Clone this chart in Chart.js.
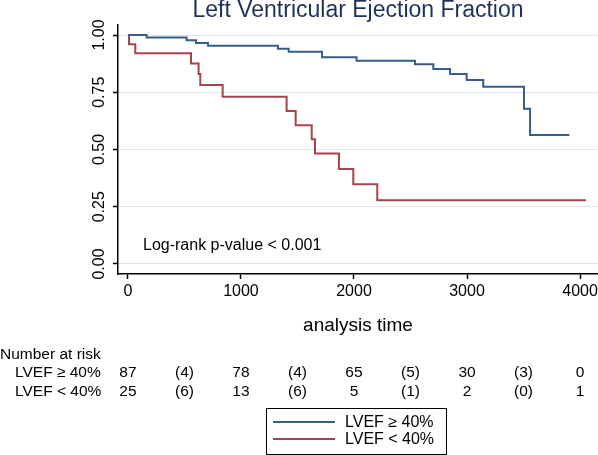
<!DOCTYPE html>
<html>
<head>
<meta charset="utf-8">
<script src="https://cdn.jsdelivr.net/npm/chart.js@4/dist/chart.umd.min.js"></script>
<style>
  html, body { margin: 0; padding: 0; background: #fff; }
  #wrap { width: 598px; height: 455px; }
</style>
</head>
<body>
<div id="wrap"><canvas id="km" width="598" height="455"></canvas></div>
<script>
// Kaplan-Meier curves
const highTimes = [0, 165, 519, 602, 708, 1327, 1422, 1717, 2023, 2540, 2702, 2850, 2997, 3144, 3504, 3558, 3905];
const highSurv  = [1.00, 0.989, 0.977, 0.965, 0.953, 0.940, 0.927, 0.903, 0.888, 0.872, 0.852, 0.830, 0.803, 0.774, 0.678, 0.563, 0.563];

const lowTimes = [0, 9, 65, 558, 625, 640, 838, 1404, 1484, 1626, 1655, 1867, 1994, 2206, 4053];
const lowSurv  = [1.00, 0.960, 0.920, 0.876, 0.830, 0.782, 0.730, 0.668, 0.606, 0.545, 0.483, 0.415, 0.348, 0.278, 0.278];

const seriesLabels = ['LVEF \u2265 40%', 'LVEF < 40%'];
const seriesColors = ['#345e88', '#a5434c'];

// Number at risk table (also the x tick values)
const riskTimes = [0, 1000, 2000, 3000, 4000];
const riskHigh = [87, 78, 65, 30, 0];
const censHigh = [4, 4, 5, 3];
const riskLow = [25, 13, 5, 2, 1];
const censLow = [6, 6, 1, 0];

const yTicks = [0, 0.25, 0.5, 0.75, 1];

const FONT = '"Liberation Sans", Arial, Helvetica, sans-serif';

const toPoints = (ts, ss) => ts.map((t, i) => ({ x: t, y: ss[i] }));

// Draws all the extra text: title, rotated y labels, risk table, legend box
const extrasPlugin = {
    id: 'extras',
    afterDraw(chart) {
        const ctx = chart.ctx;
        const area = chart.chartArea;
        const xs = chart.scales.x;
        const ys = chart.scales.y;
        const cx = (area.left + area.right) / 2;

        ctx.save();

        // title
        ctx.fillStyle = '#1e3159';
        ctx.font = '23px ' + FONT;
        ctx.textAlign = 'center';
        ctx.textBaseline = 'alphabetic';
        ctx.fillText('Left Ventricular Ejection Fraction', cx, 17);

        // y tick labels, rotated
        ctx.fillStyle = '#000';
        ctx.font = '16px ' + FONT;
        ys.ticks.forEach(tk => {
            const y = ys.getPixelForValue(tk.value);
            ctx.save();
            ctx.translate(100, y);
            ctx.rotate(-Math.PI / 2);
            ctx.textAlign = 'center';
            ctx.textBaseline = 'middle';
            ctx.fillText(tk.value.toFixed(2), 0, 0);
            ctx.restore();
        });

        // x axis title
        ctx.font = '19px ' + FONT;
        ctx.textAlign = 'center';
        ctx.textBaseline = 'middle';
        ctx.fillText('analysis time', cx, 326);

        // log-rank note
        ctx.font = '16px ' + FONT;
        ctx.textAlign = 'left';
        ctx.fillText('Log-rank p-value < 0.001', 143, 246);

        // number at risk
        ctx.font = '15.5px ' + FONT;
        ctx.textAlign = 'left';
        ctx.fillText('Number at risk', 0, 355);
        ctx.fillText(seriesLabels[0], 15, 373);
        ctx.fillText(seriesLabels[1], 15, 392);
        ctx.textAlign = 'center';
        riskTimes.forEach((t, i) => {
            const x = xs.getPixelForValue(t);
            ctx.fillText(String(riskHigh[i]), x, 373);
            ctx.fillText(String(riskLow[i]), x, 392);
            if (i < riskTimes.length - 1) {
                const xm = xs.getPixelForValue((t + riskTimes[i + 1]) / 2);
                ctx.fillText('(' + censHigh[i] + ')', xm, 373);
                ctx.fillText('(' + censLow[i] + ')', xm, 392);
            }
        });

        // legend box
        ctx.strokeStyle = '#000';
        ctx.lineWidth = 1;
        ctx.strokeRect(266.5, 408.5, 180, 46);
        const rows = [422, 439];
        ctx.font = '16px ' + FONT;
        ctx.textAlign = 'left';
        rows.forEach((y, i) => {
            ctx.strokeStyle = seriesColors[i];
            ctx.lineWidth = 2;
            ctx.beginPath();
            ctx.moveTo(273, y);
            ctx.lineTo(335, y);
            ctx.stroke();
            ctx.fillStyle = '#000';
            ctx.fillText(seriesLabels[i], 345, y + 1);
        });

        ctx.restore();
    }
};

const ctx = document.getElementById('km').getContext('2d');
const chart = new Chart(ctx, {
    type: 'line',
    data: {
        datasets: [
            {
                label: seriesLabels[0],
                data: toPoints(highTimes, highSurv),
                borderColor: seriesColors[0],
                borderWidth: 2,
                pointRadius: 0,
                stepped: true,
                fill: false
            },
            {
                label: seriesLabels[1],
                data: toPoints(lowTimes, lowSurv),
                borderColor: seriesColors[1],
                borderWidth: 2,
                pointRadius: 0,
                stepped: true,
                fill: false
            }
        ]
    },
    options: {
        responsive: false,
        animation: false,
        devicePixelRatio: 1,
        layout: { padding: { top: 25, left: 0, right: 0, bottom: 0 } },
        plugins: {
            legend: { display: false },
            title: { display: false },
            tooltip: { enabled: false }
        },
        scales: {
            x: {
                type: 'linear',
                min: -88,
                max: 4159,
                afterBuildTicks(scale) { scale.ticks = riskTimes.map(v => ({ value: v })); },
                afterFit(scale) {
                    scale.height = 181;
                    scale.paddingLeft = 0;
                    scale.paddingRight = 0;
                },
                ticks: {
                    maxRotation: 0,
                    autoSkip: false,
                    padding: 3,
                    color: '#000',
                    font: { family: FONT, size: 16 },
                    callback: v => String(v)
                },
                grid: {
                    drawOnChartArea: false,
                    tickLength: 5,
                    tickColor: '#000',
                    tickWidth: 1.5
                },
                border: { color: '#000', width: 1.5 }
            },
            y: {
                type: 'linear',
                min: -0.0437,
                max: 1.0437,
                afterBuildTicks(scale) { scale.ticks = yTicks.map(v => ({ value: v })); },
                afterFit(scale) { scale.width = 118; },
                ticks: { display: false },
                grid: {
                    color: '#dce7ec',
                    lineWidth: 1,
                    tickLength: 5,
                    tickColor: '#000',
                    tickWidth: 1.5
                },
                border: { color: '#000', width: 1.5 }
            }
        }
    },
    plugins: [extrasPlugin]
});
</script>
</body>
</html>
